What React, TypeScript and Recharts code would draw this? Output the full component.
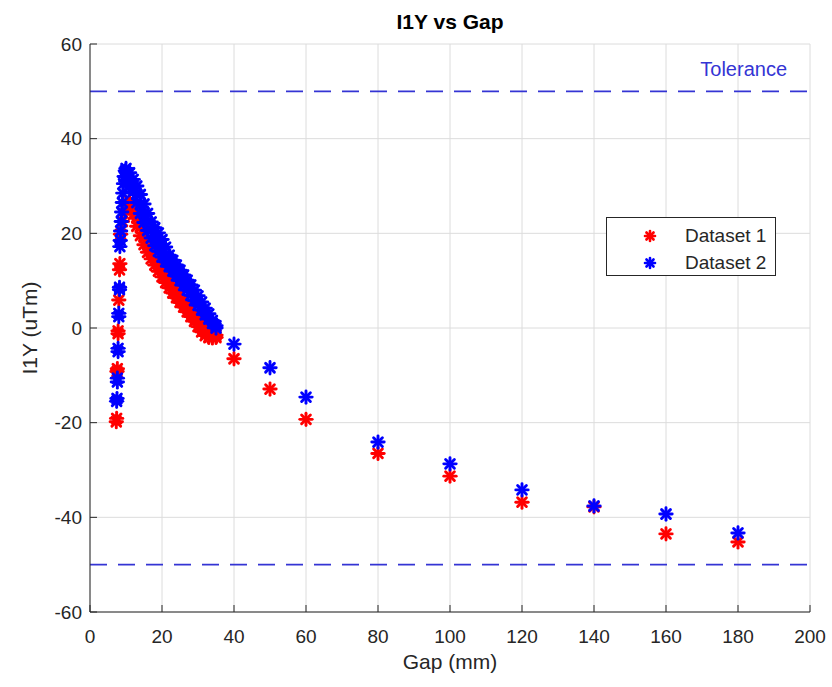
import { ScatterChart, Scatter, XAxis, YAxis, CartesianGrid, ReferenceLine, Legend } from "recharts";

const FONT = '"Liberation Sans", Arial, Helvetica, sans-serif';
const INK = "#262626";
const GRID = "#dcdcdc";
const RED = "#ff0000";
const BLUE = "#0000ff";
const TOL = "#3434d4";

const X_TICKS = [0, 20, 40, 60, 80, 100, 120, 140, 160, 180, 200];
const Y_TICKS = [-60, -40, -20, 0, 20, 40, 60];
const TOLERANCE = [50, -50];

// Dataset 1 (red): steep rise at small gap, falling branch, sparse tail
const redColumnGap = [7.3, 7.4, 7.5, 7.6, 7.8, 7.8, 8.0, 8.2, 8.3, 8.5, 9.0, 9.8, 10.4];
const redColumnValue = [-19.8, -19.1, -9.2, -8.6, -1.2, -0.6, 5.9, 12.3, 13.6, 19.8, 22.5, 25.0, 26.3];
const redBranchGap = [11, 12, 13, 14, 15, 16, 17, 18, 19, 20, 21, 22, 23, 24, 25, 26, 27, 28, 29, 30, 31, 32, 33, 34, 35];
const redBranchLow = [26.0, 24.0, 21.5, 19.5, 17.6, 16.0, 14.6, 13.3, 12.0, 10.8, 9.6, 8.5, 7.4, 6.4, 5.4, 4.4, 3.4, 2.4, 1.4, 0.3, -0.8, -1.6, -2.0, -2.1, -2.0];
const redBranchHigh = [26.8, 25.5, 23.2, 21.2, 19.2, 17.6, 16.1, 14.8, 13.5, 12.3, 11.1, 10.0, 8.9, 7.8, 6.8, 5.8, 4.7, 3.7, 2.6, 1.6, 0.6, -0.4, -1.0, -1.2, -1.5];
const redTailGap = [40, 50, 60, 80, 100, 120, 140, 160, 180];
const redTailValue = [-6.5, -12.9, -19.3, -26.5, -31.3, -36.8, -37.8, -43.5, -45.2];

// Dataset 2 (blue)
const blueColumnGap = [7.4, 7.5, 7.6, 7.6, 7.8, 7.8, 8.0, 8.0, 8.2, 8.2, 8.3, 8.4, 8.5, 8.7, 8.8, 9.0, 9.1, 9.3, 9.5, 9.8];
const blueColumnValue = [-15.5, -14.9, -11.4, -10.6, -5.0, -4.3, 2.4, 3.1, 8.1, 8.6, 17.2, 18.5, 20.5, 22.5, 24.5, 26.5, 28.5, 30.5, 32.0, 33.2];
const blueBranchGap = [10, 11, 12, 13, 14, 15, 16, 17, 18, 19, 20, 21, 22, 23, 24, 25, 26, 27, 28, 29, 30, 31, 32, 33, 34, 35];
const blueBranchUpper = [33.7, 32.8, 31.4, 30.0, 28.2, 26.2, 24.2, 22.4, 21.2, 20.1, 18.7, 17.1, 15.4, 14.3, 13.3, 12.2, 11.2, 10.1, 9.1, 8.0, 6.8, 5.5, 4.2, 3.0, 1.6, 0.5];
const blueBranchLower = [31.0, 30.0, 28.8, 26.5, 24.2, 22.3, 20.6, 19.0, 17.4, 16.2, 15.0, 14.0, 13.0, 12.0, 11.0, 10.0, 9.0, 8.0, 6.9, 5.8, 4.8, 3.8, 2.8, 1.9, 1.0, 0.0];
const blueMiddleGap = [12, 13, 14, 15, 16, 17, 18, 19, 20, 21, 22, 23, 24, 25, 26, 27];
const blueMiddleValue = [30.1, 28.2, 26.2, 24.2, 22.4, 20.7, 19.3, 18.1, 16.8, 15.5, 14.2, 13.1, 12.1, 11.1, 10.1, 9.0];
const blueTailGap = [40, 50, 60, 80, 100, 120, 140, 160, 180];
const blueTailValue = [-3.4, -8.4, -14.6, -24.1, -28.7, -34.2, -37.6, -39.3, -43.3];

const pts = (gaps: number[], vals: number[]) => gaps.map((gap, i) => ({ gap, value: vals[i] }));

const dataset1 = [
  ...pts(redColumnGap, redColumnValue),
  ...pts(redBranchGap, redBranchLow),
  ...pts(redBranchGap, redBranchHigh),
  ...pts(redTailGap, redTailValue),
];
const dataset2 = [
  ...pts(blueColumnGap, blueColumnValue),
  ...pts(blueBranchGap, blueBranchLower),
  ...pts(blueMiddleGap, blueMiddleValue),
  ...pts(blueBranchGap, blueBranchUpper),
  ...pts(blueTailGap, blueTailValue),
];

const SERIES = [
  { name: "Dataset 1", color: RED },
  { name: "Dataset 2", color: BLUE },
];

// matlab style '*' marker
function Star({ cx, cy, color, r = 6.2, w = 2.9 }: { cx: number; cy: number; color: string; r?: number; w?: number }) {
  const d = r * 0.7071;
  return (
    <g stroke={color} strokeWidth={w} strokeLinecap="round">
      <line x1={cx - r} y1={cy} x2={cx + r} y2={cy} />
      <line x1={cx} y1={cy - r} x2={cx} y2={cy + r} />
      <line x1={cx - d} y1={cy - d} x2={cx + d} y2={cy + d} />
      <line x1={cx - d} y1={cy + d} x2={cx + d} y2={cy - d} />
    </g>
  );
}

function LegendBox() {
  return (
    <div
      style={{
        width: 170,
        height: 59,
        boxSizing: "border-box",
        border: `1px solid ${INK}`,
        background: "#fff",
        position: "relative",
        fontFamily: FONT,
        fontSize: 19,
        color: INK,
      }}
    >
      {SERIES.map((s, i) => (
        <div key={s.name} style={{ position: "absolute", left: 0, top: 6 + i * 27, height: 24, display: "flex", alignItems: "center" }}>
          <svg width={14} height={14} style={{ marginLeft: 36 }}>
            <Star cx={7} cy={7} color={s.color} r={5} w={2.6} />
          </svg>
          <span style={{ marginLeft: 28, whiteSpace: "nowrap" }}>{s.name}</span>
        </div>
      ))}
    </div>
  );
}

const TICK = { fill: INK, fontSize: 19, fontFamily: FONT };

export default function App() {
  return (
    <div style={{ position: "absolute", left: 0, top: 0, width: 832, height: 687, background: "#fff" }}>
      <ScatterChart width={832} height={687} margin={{ top: 44, right: 22, bottom: 0, left: 0 }}>
        <CartesianGrid stroke={GRID} />
        <XAxis
          type="number"
          dataKey="gap"
          domain={[0, 200]}
          ticks={X_TICKS}
          height={75}
          tick={TICK}
          tickSize={-7}
          tickMargin={25}
          tickLine={{ stroke: INK }}
          axisLine={{ stroke: INK }}
          label={{ value: "Gap (mm)", position: "insideBottom", offset: 18, fill: INK, fontSize: 21, fontFamily: FONT }}
        />
        <YAxis
          type="number"
          dataKey="value"
          domain={[-60, 60]}
          ticks={Y_TICKS}
          width={90}
          tick={TICK}
          tickSize={-7}
          tickMargin={15}
          tickLine={{ stroke: INK }}
          axisLine={{ stroke: INK }}
          label={{ value: "I1Y (uTm)", angle: -90, position: "center", dx: -15, fill: INK, fontSize: 21, fontFamily: FONT }}
        />
        {TOLERANCE.map((t, i) => (
          <ReferenceLine
            key={t}
            y={t}
            stroke={TOL}
            strokeWidth={1.6}
            strokeDasharray="17 11"
            label={i === 0 ? { value: "Tolerance", position: "insideBottomRight", offset: 15, dx: -8, fill: TOL, fontSize: 20, fontFamily: FONT } : undefined}
          />
        ))}
        <Legend
          layout="vertical"
          align="center"
          verticalAlign="middle"
          content={() => <LegendBox />}
          wrapperStyle={{ left: 606, top: 217, width: 170, height: 59 }}
        />
        {[dataset1, dataset2].map((d, i) => (
          <Scatter
            key={SERIES[i].name}
            name={SERIES[i].name}
            data={d}
            fill={SERIES[i].color}
            isAnimationActive={false}
            shape={(p: any) => <Star cx={p.cx} cy={p.cy} color={SERIES[i].color} />}
          />
        ))}
      </ScatterChart>
      <div
        style={{
          position: "absolute",
          left: 90,
          top: 10,
          width: 720,
          textAlign: "center",
          fontFamily: FONT,
          fontWeight: "bold",
          fontSize: 21,
          lineHeight: "24px",
          color: "#000",
        }}
      >
        I1Y vs Gap
      </div>
    </div>
  );
}
